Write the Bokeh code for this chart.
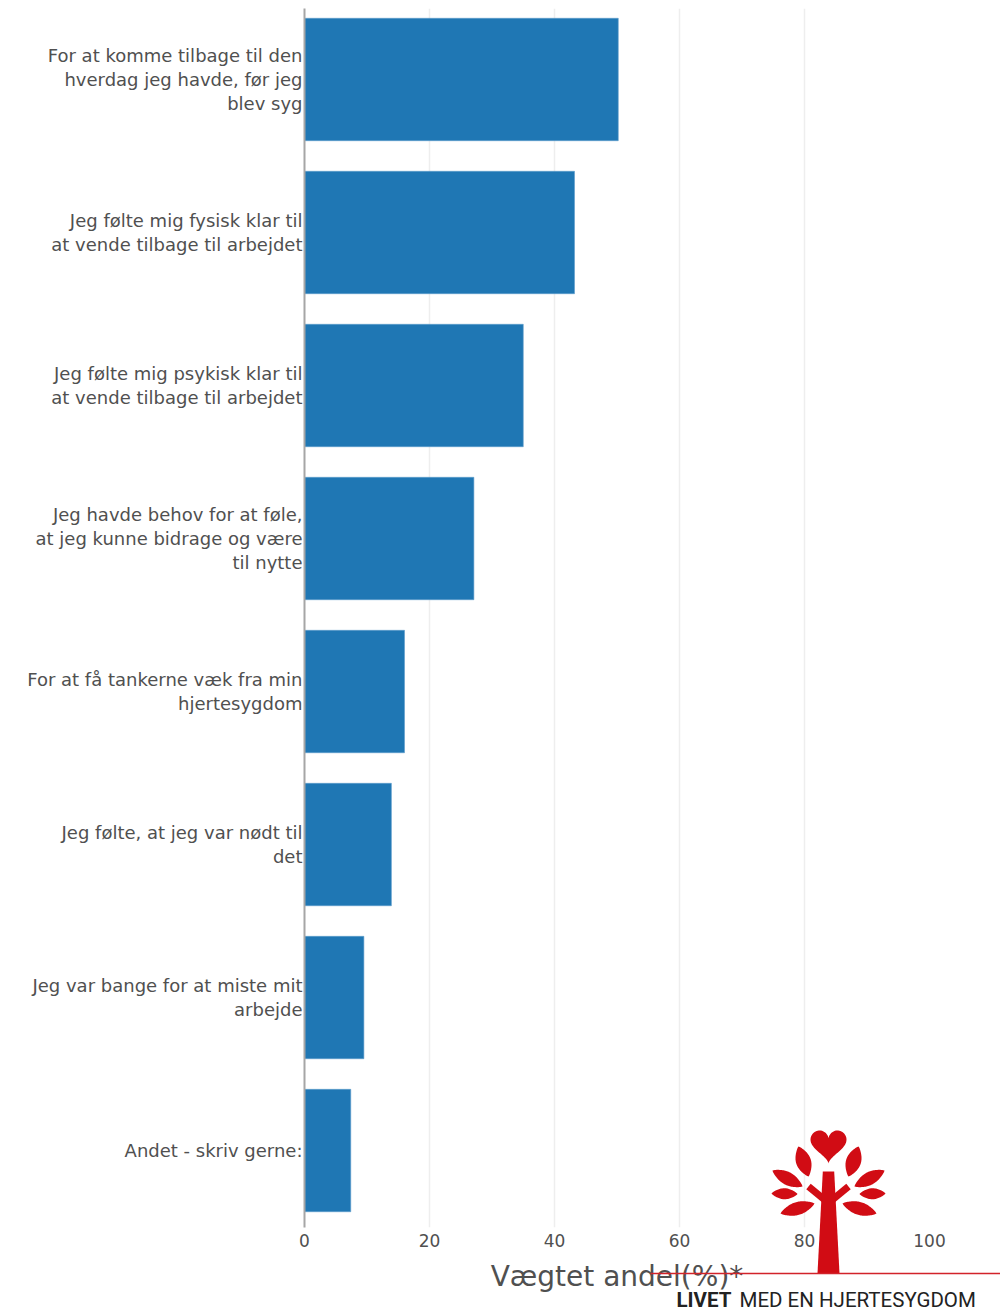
import numpy as np
from bokeh.plotting import figure
from bokeh.layouts import column
from bokeh.models import Range1d, FixedTicker
from bokeh.core.properties import value
from bokeh.embed import file_html
from bokeh.resources import INLINE

# ---------------- data ----------------
categories = [
    "For at komme tilbage til den\nhverdag jeg havde, før jeg\nblev syg",
    "Jeg følte mig fysisk klar til\nat vende tilbage til arbejdet",
    "Jeg følte mig psykisk klar til\nat vende tilbage til arbejdet",
    "Jeg havde behov for at føle,\nat jeg kunne bidrage og være\ntil nytte",
    "For at få tankerne væk fra min\nhjertesygdom",
    "Jeg følte, at jeg var nødt til\ndet",
    "Jeg var bange for at miste mit\narbejde",
    "Andet - skriv gerne:",
]
values = [50.2, 43.2, 35.0, 27.1, 16.0, 13.9, 9.5, 7.4]
x_ticks = [0, 20, 40, 60, 80, 100]
x_tick_labels = ["0", "20", "40", "60", "80", "100"]
x_title = "Vægtet andel(%)*"
brand_bold = "LIVET"
brand_rest = "MED EN HJERTESYGDOM"

# ---------------- main figure ----------------
idx = list(range(len(categories)))
BLUE = "#1f77b4"
RED = "#d10c14"
W, H = 1000, 1311

p = figure(width=W, height=H, output_backend="svg", toolbar_location=None,
           x_range=Range1d(0, 100), y_range=Range1d(len(categories) - 0.497, -0.464),
           min_border_left=304, min_border_right=W - 929, min_border_top=8,
           min_border_bottom=H - 1227)
p.outline_line_color = None
p.frame_align = False

p.hbar(y=idx, left=0, right=values, height=0.8, fill_color=BLUE, line_color="#5d9ccb",
       line_width=1, line_alpha=0.6)

# y axis (categories)
p.yaxis.ticker = FixedTicker(ticks=idx)
p.yaxis.major_label_overrides = {i: c for i, c in zip(idx, categories)}
p.yaxis.major_tick_line_color = None
p.yaxis.minor_tick_line_color = None
p.yaxis.major_tick_out = 0
p.yaxis.major_tick_in = 0
p.yaxis.axis_line_color = "#a6a6a6"
p.yaxis.axis_line_width = 2
p.yaxis.major_label_standoff = 2
p.yaxis.major_label_text_font = "DejaVu Sans"
p.yaxis.major_label_text_font_size = "18px"
p.yaxis.major_label_text_color = "#505050"
p.yaxis.major_label_text_line_height = 1.14

# x axis
p.xaxis.ticker = FixedTicker(ticks=x_ticks)
p.xaxis.major_label_overrides = {t: l for t, l in zip(x_ticks, x_tick_labels)}
p.xaxis.axis_line_color = None
p.xaxis.major_tick_line_color = None
p.xaxis.minor_tick_line_color = None
p.xaxis.major_tick_out = 0
p.xaxis.major_tick_in = 0
p.xaxis.major_label_standoff = 6
p.xaxis.major_label_text_font = "DejaVu Sans"
p.xaxis.major_label_text_font_size = "17px"
p.xaxis.major_label_text_color = "#505050"
p.xaxis.axis_label = x_title
p.xaxis.axis_label_text_font = "DejaVu Sans"
p.xaxis.axis_label_text_font_style = "normal"
p.xaxis.axis_label_text_font_size = "28px"
p.xaxis.axis_label_text_color = "#505050"
p.xaxis.axis_label_standoff = 10

p.ygrid.visible = False
p.xgrid.ticker = FixedTicker(ticks=[t for t in x_ticks if 0 < t < 100])
p.xgrid.grid_line_color = "#eeeeee"
p.xgrid.grid_line_width = 1.5

# ---------------- logo overlay figure (page-pixel coordinates) ----------------
LY0 = 1120
logo = figure(width=W, height=H - LY0, output_backend="svg", toolbar_location=None,
              x_range=Range1d(0, W), y_range=Range1d(H, LY0),
              x_axis_type=None, y_axis_type=None, min_border=0)
logo.frame_align = False
logo.grid.visible = False
logo.outline_line_color = None
logo.background_fill_color = None
logo.border_fill_color = None
logo.styles = {"margin-top": f"-{H - LY0}px"}


def leaf(x0, y0, x1, y1, w):
    s = np.linspace(0, 1, 40)
    dx, dy = x1 - x0, y1 - y0
    L = np.hypot(dx, dy)
    nx, ny = -dy / L, dx / L
    hw = w / 2 * np.sin(np.pi * s) ** 0.8
    ax = x0 + dx * s
    ay = y0 + dy * s
    xs = np.concatenate([ax + nx * hw, (ax - nx * hw)[::-1]])
    ys = np.concatenate([ay + ny * hw, (ay - ny * hw)[::-1]])
    return list(xs), list(ys)


def thick(x0, y0, x1, y1, w):
    dx, dy = x1 - x0, y1 - y0
    L = np.hypot(dx, dy)
    nx, ny = -dy / L * w / 2, dx / L * w / 2
    return [x0 + nx, x1 + nx, x1 - nx, x0 - nx], [y0 + ny, y1 + ny, y1 - ny, y0 - ny]


CX = 828.0
shapes_x, shapes_y = [], []
leaves = [
    (798, 1146, 808, 1176, 15),
    (772, 1170, 802, 1186, 13),
    (771, 1193, 797, 1193.5, 11),
    (780, 1213, 814, 1203, 13),
]
for (x0, y0, x1, y1, w) in leaves:
    xs, ys = leaf(x0, y0, x1, y1, w)
    shapes_x += [xs, [2 * CX - v for v in xs]]
    shapes_y += [ys, ys]

bx, by = thick(825, 1200, 808, 1186, 7)
shapes_x += [bx, [2 * CX - v for v in bx]]
shapes_y += [by, by]

# trunk
shapes_x.append([822.3, 833.7, 839, 817])
shapes_y.append([1171, 1171, 1273, 1273])

# heart
t = np.linspace(0, 2 * np.pi, 120)
hx = 16 * np.sin(t) ** 3
hy = 13 * np.cos(t) - 5 * np.cos(2 * t) - 2 * np.cos(3 * t) - np.cos(4 * t)
shapes_x.append(list(CX + hx / 16 * 18))
shapes_y.append(list(1130 + (hy.max() - hy) / (hy.max() - hy.min()) * 33))

logo.patches(xs=shapes_x, ys=shapes_y, fill_color=RED, line_color=None)
logo.segment(x0=[650], y0=[1273], x1=[W], y1=[1273], line_color="#d2232a", line_width=1.5)

logo.text(x=[676], y=[1299], text=[brand_bold], text_font=value("Roboto"),
          text_font_style="bold", text_font_size="20.5px", text_color="#222222",
          text_baseline="alphabetic", text_align="left")
logo.text(x=[739], y=[1299], text=[brand_rest], text_font=value("Roboto"),
          text_font_style="normal", text_font_size="20.5px", text_color="#222222",
          text_baseline="alphabetic", text_align="left")

root = column(p, logo, spacing=0)

with open("out.html", "w", encoding="utf-8") as f:
    f.write(file_html(root, INLINE))
